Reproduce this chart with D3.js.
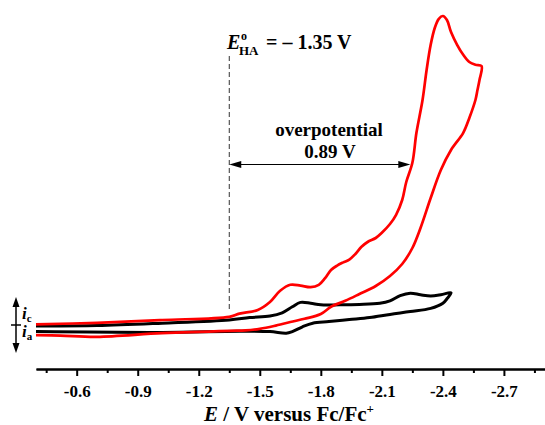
<!DOCTYPE html>
<html>
<head>
<meta charset="utf-8">
<script src="https://cdn.jsdelivr.net/npm/d3@7"></script>
<style>
  html, body { margin: 0; padding: 0; background: #fff; }
  svg { display: block; font-family: "Liberation Serif", "Times New Roman", serif; font-weight: bold; }
</style>
</head>
<body>
<svg id="chart" width="545" height="425"></svg>
<script>
// Cyclic voltammograms: potential E (V vs Fc/Fc+) and current (arbitrary units).
// Red trace: with acid; black trace: catalyst alone.
const redForwardE = [-0.40, -0.70, -1.02, -1.35, -1.40, -1.49, -1.55, -1.60, -1.65, -1.70, -1.75, -1.79, -1.82, -1.85, -1.88, -1.91, -1.94, -1.97, -2.00, -2.03, -2.07, -2.10, -2.14, -2.17, -2.20, -2.22, -2.25, -2.27, -2.30, -2.32, -2.34, -2.36, -2.38, -2.40, -2.42, -2.44, -2.47, -2.50, -2.53, -2.56, -2.59];
const redForwardI = [1.4, 1.8, 2.5, 3.3, 4.1, 5.0, 7.0, 9.8, 11.3, 11.1, 10.7, 11.3, 12.9, 15.0, 16.1, 16.9, 17.6, 19.0, 20.8, 22.0, 23.0, 24.3, 26.5, 28.8, 32.5, 37.0, 41.8, 49.3, 57.5, 65.0, 71.3, 75.5, 77.8, 78.5, 77.5, 74.5, 71.3, 68.8, 67.0, 66.3, 66.0];

const redReverseE = [-2.59, -2.58, -2.57, -2.56, -2.53, -2.50, -2.44, -2.39, -2.34, -2.29, -2.25, -2.20, -2.14, -2.07, -1.99, -1.92, -1.85, -1.80, -1.72, -1.65, -1.57, -1.50, -1.43, -1.35, -1.02, -0.70, -0.52, -0.40];
const redReverseI = [66.0, 62.5, 60.0, 57.5, 53.0, 49.3, 45.0, 40.0, 33.0, 25.5, 20.5, 16.5, 13.5, 11.0, 9.0, 7.3, 5.8, 4.0, 2.8, 2.0, 1.0, 0.3, -0.1, -0.2, -0.8, -1.7, -1.4, -1.3];

const blackForwardE = [-0.40, -0.70, -1.02, -1.35, -1.45, -1.55, -1.61, -1.66, -1.70, -1.75, -1.80, -1.89, -1.99, -2.09, -2.14, -2.19, -2.24, -2.29, -2.34, -2.39, -2.44];
const blackForwardI = [1.0, 1.1, 1.7, 2.5, 3.1, 3.5, 4.3, 5.8, 6.9, 6.7, 6.3, 6.3, 6.4, 6.7, 7.3, 8.6, 9.2, 8.8, 8.5, 8.8, 9.3];

const blackReverseE = [-2.44, -2.42, -2.40, -2.34, -2.24, -2.14, -2.04, -1.94, -1.84, -1.76, -1.71, -1.66, -1.63, -1.55, -1.40, -1.02, -0.40];
const blackReverseI = [9.3, 7.8, 6.7, 5.4, 4.6, 3.9, 3.1, 2.6, 2.1, 1.7, 0.8, -0.4, -0.8, -0.4, -0.3, -0.6, -0.4];

// Axis ticks
const majorTicks = [-0.6, -0.9, -1.2, -1.5, -1.8, -2.1, -2.4, -2.7];
const minorTicks = [-0.45, -0.75, -1.05, -1.35, -1.65, -1.95, -2.25, -2.55, -2.85];

// Annotation values
const standardPotential = -1.35;   // E°(HA)
const overpotential = 0.89;        // V

const serif = '"Liberation Serif", "Times New Roman", serif';
const svg = d3.select("#chart");

const x = d3.scaleLinear().domain([-0.4, -2.9]).range([36, 544.6]);
const y = d3.scaleLinear().domain([-10, 82.5]).range([370, 0]);
const axisY = 369;

// ---- x axis ----
const minorAxis = d3.axisBottom(x).tickValues(minorTicks).tickSize(4).tickSizeOuter(0).tickFormat("");
const majorAxis = d3.axisBottom(x).tickValues(majorTicks).tickSize(7).tickSizeOuter(0).tickPadding(9)
  .tickFormat(d => d3.format(".1f")(d).replace("−", "-"));

const gMinor = svg.append("g").attr("transform", `translate(0,${axisY})`).call(minorAxis);
const gMajor = svg.append("g").attr("transform", `translate(0,${axisY})`).call(majorAxis);
[gMinor, gMajor].forEach(g => {
  g.attr("font-family", serif);
  g.select(".domain").attr("stroke", "#000").attr("stroke-width", 2);
  g.selectAll(".tick line").attr("stroke", "#000").attr("stroke-width", 2);
});
gMajor.selectAll(".tick text")
  .attr("fill", "#000")
  .style("font-family", serif)
  .style("font-weight", "bold")
  .style("font-size", "17px");

// axis title
const title = svg.append("text")
  .attr("x", 204).attr("y", 421)
  .style("font-size", "21px").attr("fill", "#000");
title.append("tspan").style("font-style", "italic").text("E");
title.append("tspan").text(" / V versus Fc/Fc");
title.append("tspan").attr("dy", -8).style("font-size", "13px").text("+");

// ---- curves ----
const line = d3.line()
  .x(d => x(d[0]))
  .y(d => y(d[1]))
  .curve(d3.curveCatmullRom.alpha(0.5));

function pairs(es, is) { return es.map((e, k) => [e, is[k]]); }

const traces = [
  { color: "#000", width: 3, fwd: pairs(blackForwardE, blackForwardI), rev: pairs(blackReverseE, blackReverseI) },
  { color: "#ff0000", width: 2.7, fwd: pairs(redForwardE, redForwardI), rev: pairs(redReverseE, redReverseI) }
];

traces.forEach(t => {
  svg.append("path")
    .attr("d", line(t.fwd.concat(t.rev.slice(1))))
    .attr("fill", "none")
    .attr("stroke", t.color)
    .attr("stroke-width", t.width)
    .attr("stroke-linejoin", "round")
    .attr("stroke-linecap", "butt");
});

// ---- E°(HA) marker ----
const x0 = x(standardPotential);
svg.append("line")
  .attr("x1", x0).attr("x2", x0)
  .attr("y1", 56).attr("y2", 311)
  .attr("stroke", "#333").attr("stroke-width", 1)
  .attr("stroke-dasharray", "5,3");

const eLabel = svg.append("g").style("font-size", "20px").attr("fill", "#000");
eLabel.append("text").attr("x", 227).attr("y", 49).style("font-style", "italic").text("E");
eLabel.append("text").attr("x", 241).attr("y", 40).style("font-size", "12px").text("o");
eLabel.append("text").attr("x", 239).attr("y", 55).style("font-size", "13px").text("HA");
eLabel.append("text").attr("x", 266).attr("y", 49).text("= \u2013 1.35 V");

// ---- overpotential arrow ----
const x1 = x(standardPotential - overpotential);
const arrowY = 164.5;
svg.append("line")
  .attr("x1", x0 + 4).attr("x2", x1 - 4)
  .attr("y1", arrowY).attr("y2", arrowY)
  .attr("stroke", "#000").attr("stroke-width", 1.2);

function arrowHead(tipX, tipY, dir, len, half) {
  // dir: unit vector the arrow points along
  const [dx, dy] = dir;
  const bx = tipX - dx * len, by = tipY - dy * len;
  const px = -dy * half, py = dx * half;
  svg.append("path")
    .attr("d", `M${tipX},${tipY}L${bx + px},${by + py}L${bx - px},${by - py}Z`)
    .attr("fill", "#000");
}
arrowHead(x0, arrowY, [-1, 0], 12, 3.5);
arrowHead(x1, arrowY, [1, 0], 12, 3.5);

svg.append("text").attr("x", 329).attr("y", 136).attr("text-anchor", "middle")
  .style("font-size", "19px").text("overpotential");
svg.append("text").attr("x", 330).attr("y", 158).attr("text-anchor", "middle")
  .style("font-size", "19px").text("0.89 V");

// ---- current direction indicator ----
const ix = 16;
svg.append("line").attr("x1", ix).attr("x2", ix).attr("y1", 304).attr("y2", 346)
  .attr("stroke", "#000").attr("stroke-width", 1.5);
svg.append("line").attr("x1", 11).attr("x2", 21).attr("y1", 325).attr("y2", 325)
  .attr("stroke", "#000").attr("stroke-width", 1.5);
arrowHead(ix, 297, [0, -1], 10, 3.5);
arrowHead(ix, 353, [0, 1], 10, 3.5);

const ic = svg.append("text").attr("x", 22).attr("y", 319).style("font-size", "17px");
ic.append("tspan").style("font-style", "italic").text("i");
ic.append("tspan").attr("dy", 3).style("font-size", "11px").text("c");
const ia = svg.append("text").attr("x", 22).attr("y", 337).style("font-size", "17px");
ia.append("tspan").style("font-style", "italic").text("i");
ia.append("tspan").attr("dy", 3).style("font-size", "11px").text("a");
</script>
</body>
</html>
